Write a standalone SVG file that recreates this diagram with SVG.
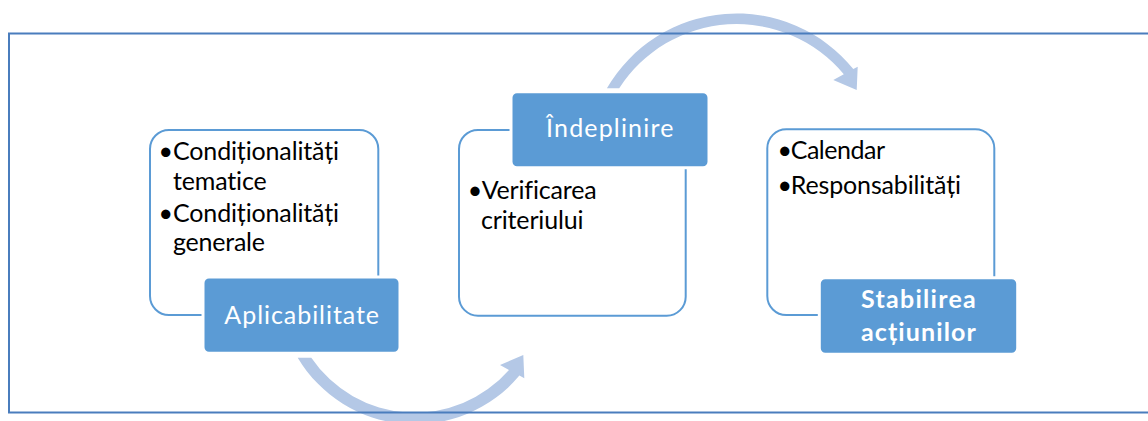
<svg xmlns="http://www.w3.org/2000/svg" width="1148" height="421" viewBox="0 0 1148 421">
  <style>
    text { font-family: Lato, "Open Sans", sans-serif; font-size: 25px; font-variant-ligatures: none; }
    .outline { fill: #ffffff; stroke: #5b9bd5; stroke-width: 2; }
    .label-box { fill: #5b9bd5; stroke: #ffffff; stroke-width: 3; }
    .item { fill: #000000; }
    .bullet { fill: #000000; text-anchor: middle; }
    .title { fill: #ffffff; text-anchor: middle; }
    .title-bold { font-weight: bold; fill: #ffffff; text-anchor: middle; }
    .flow { fill: #b4c8e6; stroke: none; }
    .frame { fill: none; stroke: #4a7dbd; stroke-width: 2; }
  </style>

  <!-- curved flow arrows between the stages -->
  <g id="connectors">
    <path id="arrow-aplicabilitate-indeplinire" class="flow"
          d="M 297.7,357.7 A 136.5 136.5 0 0 0 519.4,375.6 L 524.3,378.3 L 523.3,355 L 500,365 L 509,369.9 A 125 125 0 0 1 311.3,357.7 Z"/>
    <path id="arrow-indeplinire-stabilirea" class="flow"
          d="M 606.9,88.3 A 150 150 0 0 1 853.3,69.1 L 857.7,66.7 L 856.7,90 L 833.3,80 L 843.8,74.3 A 139.5 139.5 0 0 0 619.2,88.3 Z"/>
  </g>

  <!-- stage 1 -->
  <g id="node-aplicabilitate">
    <rect class="outline" x="150" y="130" width="228.3" height="185" rx="19"/>
    <text class="bullet" x="165.8" y="160">•</text>
    <text class="item" x="173" y="160" textLength="166">Condiționalități</text>
    <text class="item" x="173" y="190" textLength="93.7">tematice</text>
    <text class="bullet" x="165.8" y="221.7">•</text>
    <text class="item" x="173" y="221.7" textLength="166">Condiționalități</text>
    <text class="item" x="173" y="251.3" textLength="92">generale</text>
    <rect class="label-box" x="203" y="277" width="197" height="76.3" rx="6"/>
    <text class="title" x="301.7" y="324" textLength="154.7">Aplicabilitate</text>
  </g>

  <!-- stage 2 -->
  <g id="node-indeplinire">
    <rect class="outline" x="459" y="130" width="226.7" height="185.7" rx="19"/>
    <text class="bullet" x="475" y="199.3">•</text>
    <text class="item" x="481.7" y="199.3" textLength="115">Verificarea</text>
    <text class="item" x="481" y="229.3" textLength="102.6">criteriului</text>
    <rect class="label-box" x="511" y="91.7" width="198" height="76" rx="6"/>
    <text class="title" x="609.7" y="136.7" textLength="127.3">Îndeplinire</text>
  </g>

  <!-- stage 3 -->
  <g id="node-stabilirea">
    <rect class="outline" x="767.3" y="129.3" width="227" height="185.7" rx="19"/>
    <text class="bullet" x="784.7" y="159.3">•</text>
    <text class="item" x="790.7" y="159.3" textLength="94.3">Calendar</text>
    <text class="bullet" x="784.7" y="194">•</text>
    <text class="item" x="790.7" y="194" textLength="170.3">Responsabilități</text>
    <rect class="label-box" x="819.3" y="277.7" width="198.4" height="76.6" rx="6"/>
    <text class="title-bold" x="918.4" y="307.7" textLength="114.7">Stabilirea</text>
    <text class="title-bold" x="918.4" y="341" textLength="114.7">acțiunilor</text>
  </g>

  <!-- surrounding frame (right side runs past the page edge) -->
  <rect class="frame" x="9" y="33.5" width="1150" height="379"/>
</svg>
